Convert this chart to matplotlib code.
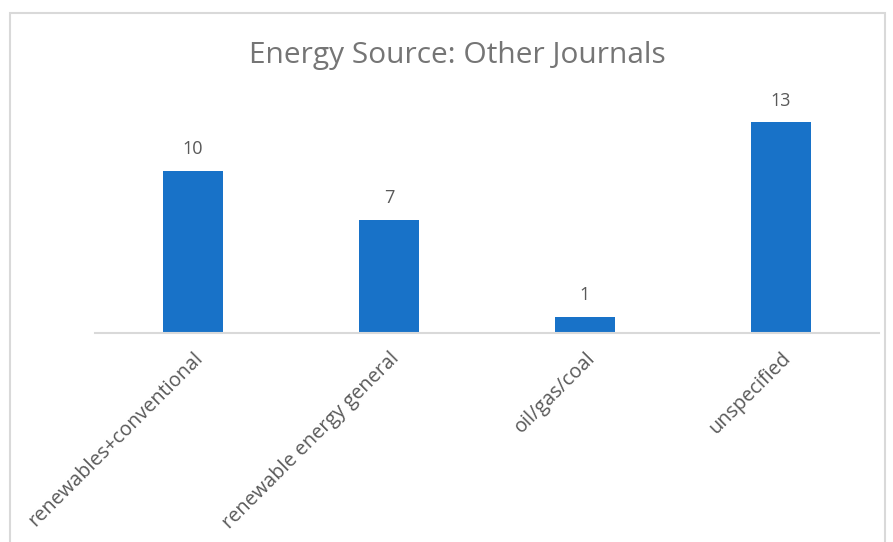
import matplotlib.pyplot as plt
from matplotlib.patches import Rectangle

categories = ["renewables+conventional", "renewable energy general", "oil/gas/coal", "unspecified"]
counts = [10, 7, 1, 13]

W, H = 893, 542
fig = plt.figure(figsize=(W / 100, H / 100), dpi=100)
plt.rcParams['font.family'] = ['Open Sans', 'DejaVu Sans']

# chart area border (runs off the bottom of the picture)
fig.patches.append(Rectangle((10 / W, -0.05), 875 / W, (H - 13) / H + 0.05,
                             transform=fig.transFigure, fill=False,
                             edgecolor='#d9d9d9', linewidth=1.5))

ax = fig.add_axes([95 / W, (H - 333) / H, 784 / W, 227 / H])
x = range(len(categories))
bars = ax.bar(x, counts, width=0.31, color='#1872c8')
ax.set_xlim(-0.5, len(categories) - 0.5)
ax.set_ylim(0, 14)

for b, v in zip(bars, counts):
    ax.annotate(str(v), (b.get_x() + b.get_width() / 2, v), xytext=(0, 9),
                textcoords='offset points', ha='center', va='bottom',
                fontsize=13, color='#595959')

for s in ['top', 'right', 'left']:
    ax.spines[s].set_visible(False)
ax.spines['bottom'].set_color('#d9d9d9')
ax.spines['bottom'].set_linewidth(1.5)
ax.set_yticks([])
ax.set_xticks(list(x))
ax.set_xticklabels(categories, rotation=45, ha='right', va='top',
                   rotation_mode='anchor', fontsize=14.3, color='#595959')
ax.tick_params(axis='x', length=0, pad=11)

fig.text(457 / W, 1 - 55 / H, "Energy Source: Other Journals", ha='center',
         va='center', fontsize=21.5, color='#757575')

fig.savefig('out.png', dpi=100)
